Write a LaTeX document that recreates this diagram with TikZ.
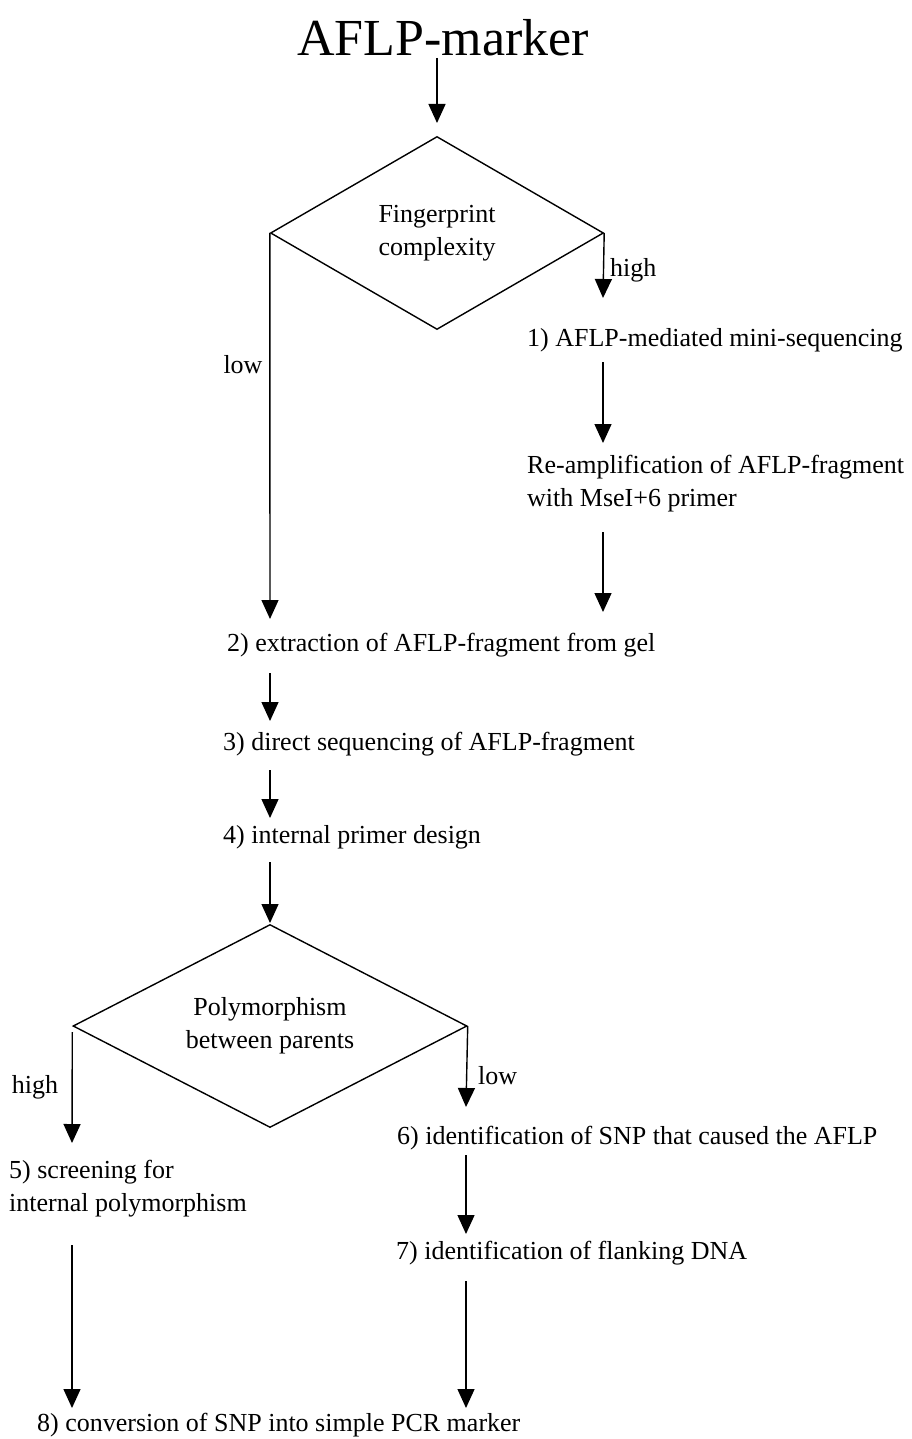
\documentclass[tikz,border=0pt]{standalone}
\usepackage{fontspec}
\setmainfont{Liberation Serif}
\usetikzlibrary{arrows.meta,shapes.geometric}
\begin{document}
\begin{tikzpicture}[x=1pt,y=-1pt,
  txt/.style={font=\fontsize{26}{33}\selectfont, inner sep=0pt, anchor=west, align=left},
  ctxt/.style={font=\fontsize{26}{33}\selectfont, inner sep=0pt, align=center},
  decision/.style={diamond, draw, line width=1.4pt, aspect=1.7, inner sep=0pt,
    font=\fontsize{26}{33}\selectfont, align=center},
  arr/.style={line width=1.4pt, -{Triangle[width=17pt,length=19pt]}}]
\useasboundingbox (0,0) rectangle (912,1439);
% title
\node[inner sep=0pt, font=\fontsize{52}{60}\selectfont] (title) at (443,38) {AFLP-marker};
% decisions
\node[decision, minimum width=333pt, minimum height=193pt] (d1) at (437,233) {Fingerprint\\complexity};
\node[decision, minimum width=394pt, minimum height=203pt] (d2) at (270,1026) {Polymorphism\\between parents};
% labels
\node[txt] (high1) at (610,270) {high};
\node[ctxt] (low1) at (243,365) {low};
\node[ctxt] (high2) at (35,1087) {high};
\node[txt] (low2) at (478,1076) {low};
% steps
\node[txt] (s1) at (527,340) {1) AFLP-mediated mini-sequencing};
\node[txt] (re) at (527,484) {Re-amplification of AFLP-fragment\\with MseI+6 primer};
\node[txt] (s2) at (227,645) {2) extraction of AFLP-fragment from gel};
\node[txt] (s3) at (223,744) {3) direct sequencing of AFLP-fragment};
\node[txt] (s4) at (223,837) {4) internal primer design};
\node[txt] (s6) at (397,1138) {6) identification of SNP that caused the AFLP};
\node[txt] (s5) at (9,1189) {5) screening for\\internal polymorphism};
\node[txt] (s7) at (396,1253) {7) identification of flanking DNA};
\node[txt] (s8) at (37,1425) {8) conversion of SNP into simple PCR marker};
% arrow end points
\coordinate (t0) at (437,58);
\coordinate (t1) at (437,123);
\coordinate (h1) at (603,298);
\coordinate (r0) at (603,362);
\coordinate (r1) at (603,443);
\coordinate (r2) at (603,532);
\coordinate (r3) at (603,612);
\coordinate (l1) at (270,619);
\coordinate (c0) at (270,673);
\coordinate (c1) at (270,721);
\coordinate (c2) at (270,770);
\coordinate (c3) at (270,818);
\coordinate (c4) at (270,862);
\coordinate (c5) at (270,923);
\coordinate (h2) at (72,1143);
\coordinate (w2) at (466,1107);
\coordinate (w3) at (466,1155);
\coordinate (w4) at (466,1234);
\coordinate (w5) at (466,1281);
\coordinate (w6) at (466,1408);
\coordinate (p0) at (72,1245);
\coordinate (p1) at (72,1408);
% connectors
\draw[arr] (t0) -- (t1);
\draw[arr] (d1.east) -- (h1);
\draw[arr] (r0) -- (r1);
\draw[arr] (r2) -- (r3);
\draw[arr] (d1.west) -- (l1);
\draw[arr] (c0) -- (c1);
\draw[arr] (c2) -- (c3);
\draw[arr] (c4) -- (c5);
\draw[arr] ([yshift=-6pt]d2.west) -- (h2);
\draw[arr] (d2.east) -- (w2);
\draw[arr] (w3) -- (w4);
\draw[arr] (w5) -- (w6);
\draw[arr] (p0) -- (p1);
\end{tikzpicture}
\end{document}
